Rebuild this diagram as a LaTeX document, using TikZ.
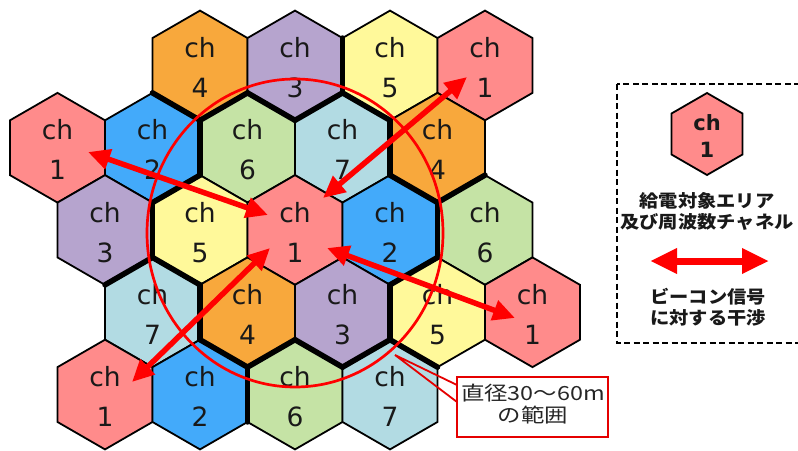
\documentclass[tikz,border=0pt]{standalone}
\usepackage{fontspec}
\usepackage{graphicx}
\setmainfont{DejaVu Sans}
\newfontfamily\cjk{Noto Sans CJK JP}
\newfontfamily\labfont{DejaVu Sans}
\usetikzlibrary{arrows.meta}
\definecolor{cpink}{RGB}{255,139,139}
\definecolor{cblue}{RGB}{67,170,250}
\definecolor{cpurple}{RGB}{182,164,206}
\definecolor{corange}{RGB}{248,168,60}
\definecolor{cyellow}{RGB}{255,249,154}
\definecolor{cgreen}{RGB}{197,227,165}
\definecolor{clblue}{RGB}{178,219,227}
\definecolor{txtdark}{RGB}{25,25,25}
\newcommand\hexctr[2]{\pgfmathsetmacro\hcx{295+95*(#1)+47.5*(#2)}\pgfmathsetmacro\hcy{230+82.275*(#2)}}
\newcommand\hexcellX[5]{%
  \hexctr{#1}{#2}%
  \path[hexline,fill=#3] (\hcx,\hcy) ++(0,-54.85) -- ++(47.5,27.425) -- ++(0,54.85) -- ++(-47.5,27.425) -- ++(-47.5,-27.425) -- ++(0,-54.85) -- cycle;
  \node[chtext] (#5a) at (\hcx,\hcy-8) {ch};
  \node[chtext] (#5b) at (\hcx,\hcy+32) {#4};
}
\newcommand\thR[2]{\hexctr{#1}{#2}\draw[thickedge] (\hcx+47.5,\hcy-27.425) -- (\hcx+47.5,\hcy+27.425);}
\newcommand\thLR[2]{\hexctr{#1}{#2}\draw[thickedge] (\hcx+47.5,\hcy+27.425) -- (\hcx,\hcy+54.85);}
\newcommand\thLL[2]{\hexctr{#1}{#2}\draw[thickedge] (\hcx,\hcy+54.85) -- (\hcx-47.5,\hcy+27.425);}
\begin{document}
\begin{tikzpicture}[x=1pt,y=-1pt,
  hexline/.style={draw=black,line width=1.8pt,line join=miter},
  thickedge/.style={draw=black,line width=5.5pt,line cap=round},
  chtext/.style={font=\labfont\fontsize{26.5}{30}\selectfont,text=txtdark,anchor=base,inner sep=0pt},
  legch/.style={font=\labfont\bfseries\fontsize{21}{24}\selectfont,text=txtdark,anchor=base,inner sep=0pt},
  redarrow/.style={draw=red,line width=5.5pt,{Triangle[length=22pt,width=20pt]}-{Triangle[length=22pt,width=20pt]}},
  legarrow/.style={draw=red,line width=7pt,{Triangle[length=27pt,width=24pt]}-{Triangle[length=27pt,width=24pt]}},
  cjktext/.style={font=\cjk\fontsize{19.5}{22}\selectfont,text=black!85,inner sep=0pt},
  legtext/.style={font=\cjk\bfseries\fontsize{17.5}{21}\selectfont,text=txtdark,align=center,inner sep=0pt},
  calloutline/.style={draw=red!90!black,line width=1.8pt},
]
\useasboundingbox (0,0) rectangle (798,450);
% hexes
\hexcellX{0}{-2}{corange}{4}{hA}
\hexcellX{1}{-2}{cpurple}{3}{hB}
\hexcellX{2}{-2}{cyellow}{5}{hC}
\hexcellX{3}{-2}{cpink}{1}{hD}
\hexcellX{-2}{-1}{cpink}{1}{hE}
\hexcellX{-1}{-1}{cblue}{2}{hF}
\hexcellX{0}{-1}{cgreen}{6}{hG}
\hexcellX{1}{-1}{clblue}{7}{hH}
\hexcellX{2}{-1}{corange}{4}{hI}
\hexcellX{-2}{0}{cpurple}{3}{hJ}
\hexcellX{-1}{0}{cyellow}{5}{hK}
\hexcellX{0}{0}{cpink}{1}{hL}
\hexcellX{1}{0}{cblue}{2}{hM}
\hexcellX{2}{0}{cgreen}{6}{hN}
\hexcellX{-2}{1}{clblue}{7}{hO}
\hexcellX{-1}{1}{corange}{4}{hP}
\hexcellX{0}{1}{cpurple}{3}{hQ}
\hexcellX{1}{1}{cyellow}{5}{hR}
\hexcellX{2}{1}{cpink}{1}{hS}
\hexcellX{-3}{2}{cpink}{1}{hT}
\hexcellX{-2}{2}{cblue}{2}{hU}
\hexcellX{-1}{2}{cgreen}{6}{hV}
\hexcellX{0}{2}{clblue}{7}{hW}
% cluster boundaries
\thLR{0}{-2}\thLL{0}{-2}
\thR{1}{-2}\thLR{1}{-2}\thLL{1}{-2}
\thLL{2}{-2}
\thR{-1}{-1}\thLR{-1}{-1}
\thR{1}{-1}
\thLR{2}{-1}\thLL{2}{-1}
\thR{-2}{0}\thLR{-2}{0}
\thLL{-1}{0}
\thR{1}{0}\thLR{1}{0}
\thR{-2}{1}
\thLR{-1}{1}\thLL{-1}{1}
\thR{0}{1}\thLR{0}{1}\thLL{0}{1}
\thLL{1}{1}
\thR{-2}{2}
% range circle
\draw[red,line width=2.7pt] (295,233) ellipse [x radius=148pt, y radius=154pt];
% interference arrows
\coordinate (aLo) at (88,152);  \coordinate (aLi) at (268,215);
\coordinate (aTRo) at (467,77); \coordinate (aTRi) at (323,198);
\coordinate (aBLo) at (132,382); \coordinate (aBLi) at (270,248);
\coordinate (aBRo) at (515,318); \coordinate (aBRi) at (327,248);
\draw[redarrow] (aLo) -- (aLi);
\draw[redarrow] (aTRo) -- (aTRi);
\draw[redarrow] (aBLo) -- (aBLi);
\draw[redarrow] (aBRo) -- (aBRi);
% callout
\coordinate (ptip) at (395,355);
\coordinate (cw1) at (457,385);
\coordinate (cw2) at (457,402);
\draw[calloutline] (cw1) -- (ptip) -- (cw2);
\node[draw=red!90!black,line width=2pt,fill=white,minimum width=151pt,minimum height=60pt,inner sep=0pt] (callout) at (532.5,407) {};
\node[cjktext] (cl1) at (533,393) {\scalebox{1.2}[1]{直径30～60m}};
\node[cjktext] (cl2) at (533,415) {\scalebox{1.2}[1]{の範囲}};
% legend
\draw[line width=1.8pt,dash pattern=on 6pt off 3.5pt] (617,84) rectangle (801,343);
\path[hexline,fill=cpink] (707,93) -- ++(35.5,20.5) -- ++(0,41) -- ++(-35.5,20.5) -- ++(-35.5,-20.5) -- ++(0,-41) -- cycle;
\node[legch] (lgch) at (707,130) {ch};
\node[legch] (lgone) at (707,157) {1};
\node[legtext] (lt1) at (707,211) {\scalebox{1.1}[1]{給電対象エリア}\\\scalebox{1.1}[1]{及び周波数チャネル}};
\coordinate (la1) at (650,261); \coordinate (la2) at (769,261);
\draw[legarrow] (la1) -- (la2);
\node[legtext] (lt2) at (708,307.5) {\scalebox{1.1}[1]{ビーコン信号}\\\scalebox{1.1}[1]{に対する干渉}};
\end{tikzpicture}
\end{document}
